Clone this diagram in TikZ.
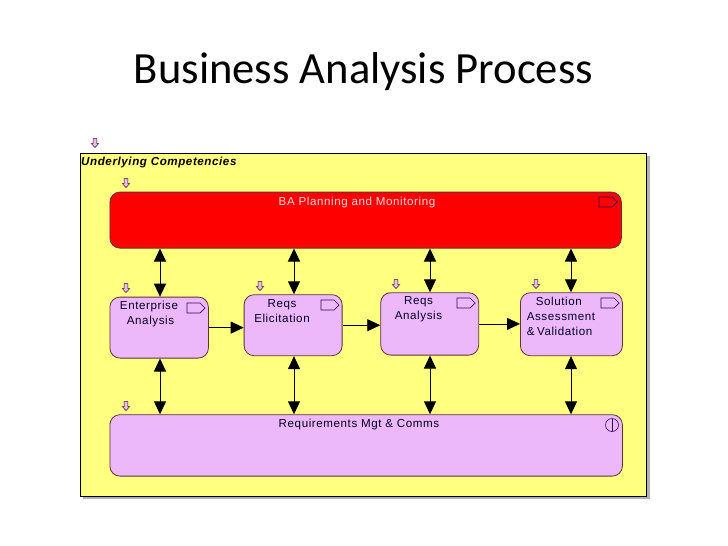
\documentclass[tikz,border=0pt]{standalone}
\usepackage{fontspec}
\setmainfont{Liberation Sans}[LetterSpace=5]
\newfontfamily\titlefont{Carlito}
\usetikzlibrary{arrows.meta}

\definecolor{panelyellow}{RGB}{255,255,128}
\definecolor{boxlilac}{RGB}{236,184,250}
\definecolor{boxred}{RGB}{255,0,0}
\definecolor{boxedge}{RGB}{95,50,60}
\definecolor{iconpink}{RGB}{240,190,220}
\definecolor{icondark}{RGB}{50,10,90}

\tikzset{
  panel/.style={draw=black, fill=panelyellow, line width=0.8pt, inner sep=0pt, anchor=north west},
  procbox/.style={draw=boxedge, line width=0.8pt, rounded corners=10pt, inner sep=0pt, anchor=north west},
  boxlabel/.style={font=\fontsize{11.6}{15}\selectfont, align=center, text=black!85!blue, inner sep=0pt},
  link/.style={line width=1pt, {Triangle[length=13pt,width=12pt]}-{Triangle[length=13pt,width=12pt]}},
  flow/.style={line width=0.8pt, -{Triangle[length=13pt,width=12pt]}},
  downmark/.pic={
    \draw[fill=iconpink, draw=icondark!70!black, line width=0.5pt]
      (-1.8,-4.5) -- (1.8,-4.5) -- (1.8,0.5) -- (3.8,0.5) -- (0,4.5) -- (-3.8,0.5) -- (-1.8,0.5) -- cycle;
  },
  tagmark/.pic={
    \draw[draw=icondark, line width=0.7pt]
      (-9,-5) -- (4,-5) -- (9,0) -- (4,5) -- (-9,5) -- cycle;
  }
}

\begin{document}
\begin{tikzpicture}[x=1pt, y=-1pt]
\useasboundingbox[fill=white] (0,0) rectangle (728,546);

% title
\node[font=\titlefont\fontsize{44.6}{50}\selectfont] (title) at (363.5,72) {Business Analysis Process};

% panel with its shadow
\fill[black!30] (83,156) rectangle (650,499);
\node[panel, minimum width=566pt, minimum height=343pt] (panel) at (80,153) {};
\node[anchor=west, inner sep=0pt, font=\fontsize{11.6}{13}\selectfont\bfseries\itshape] (paneltext) at (81,162.5) {Underlying Competencies};

% boxes (manual positions)
\node[procbox, fill=boxred, minimum width=511.5pt, minimum height=56pt] (planbox) at (109.5,191.7) {};
\node[procbox, fill=boxlilac, minimum width=98.5pt, minimum height=61pt] (entbox) at (109.5,296.7) {};
\node[procbox, fill=boxlilac, minimum width=98pt, minimum height=61pt] (elicbox) at (243.7,294.3) {};
\node[procbox, fill=boxlilac, minimum width=98pt, minimum height=62.4pt] (analbox) at (380.3,292.3) {};
\node[procbox, fill=boxlilac, minimum width=102pt, minimum height=63pt] (solbox) at (520,292.3) {};
\node[procbox, fill=boxlilac, minimum width=512.5pt, minimum height=61.4pt] (mgtbox) at (109.5,414.3) {};

% box texts
\node[boxlabel, text=white!85!red] (plantext) at (357,202) {BA Planning and Monitoring};
\node[boxlabel] (enttext) at (149,313.5) {Enterprise\\[0pt]\hspace{3pt}Analysis};
\node[boxlabel] (elictext) at (282,311.5) {Reqs\\Elicitation};
\node[boxlabel] (analtext) at (418.5,309.5) {Reqs\\Analysis};
\node[boxlabel, align=left] (soltext) at (561,316) {\hspace{9pt}Solution\\Assessment\\\&\hspace{2.5pt}Validation};
\node[boxlabel] (mgttext) at (359,424) {Requirements Mgt \& Comms};

% columns for the vertical links
\coordinate (cola) at (160,0);
\coordinate (colb) at (294,0);
\coordinate (colc) at (430,0);
\coordinate (cold) at (571,0);

\draw[link] (planbox.south -| cola) -- (entbox.north -| cola);
\draw[link] (planbox.south -| colb) -- (elicbox.north -| colb);
\draw[link] (planbox.south -| colc) -- (analbox.north -| colc);
\draw[link] (planbox.south -| cold) -- (solbox.north -| cold);

\draw[link] (entbox.south -| cola) -- (mgtbox.north -| cola);
\draw[link] (elicbox.south -| colb) -- (mgtbox.north -| colb);
\draw[link] (analbox.south -| colc) -- (mgtbox.north -| colc);
\draw[link] (solbox.south -| cold) -- (mgtbox.north -| cold);

\draw[flow] (entbox.east) -- (entbox.east -| elicbox.west);
\draw[flow] (elicbox.east) -- (elicbox.east -| analbox.west);
\draw[flow] (analbox.east) -- (analbox.east -| solbox.west);

% small marks
\foreach \px/\py in {95/143, 126/183, 126/288, 260/286, 396/284, 536/284, 126/406}
  \pic at (\px,\py) {downmark};
\foreach \px/\py in {608/202, 196/308, 330/305, 466/303, 610/303}
  \pic at (\px,\py) {tagmark};

% split circle on the lower box
\draw[icondark, line width=0.6pt] (612,425) circle (6.5pt);
\draw[icondark, line width=0.6pt] (612,418.5) -- (612,431.5);

\end{tikzpicture}
\end{document}
